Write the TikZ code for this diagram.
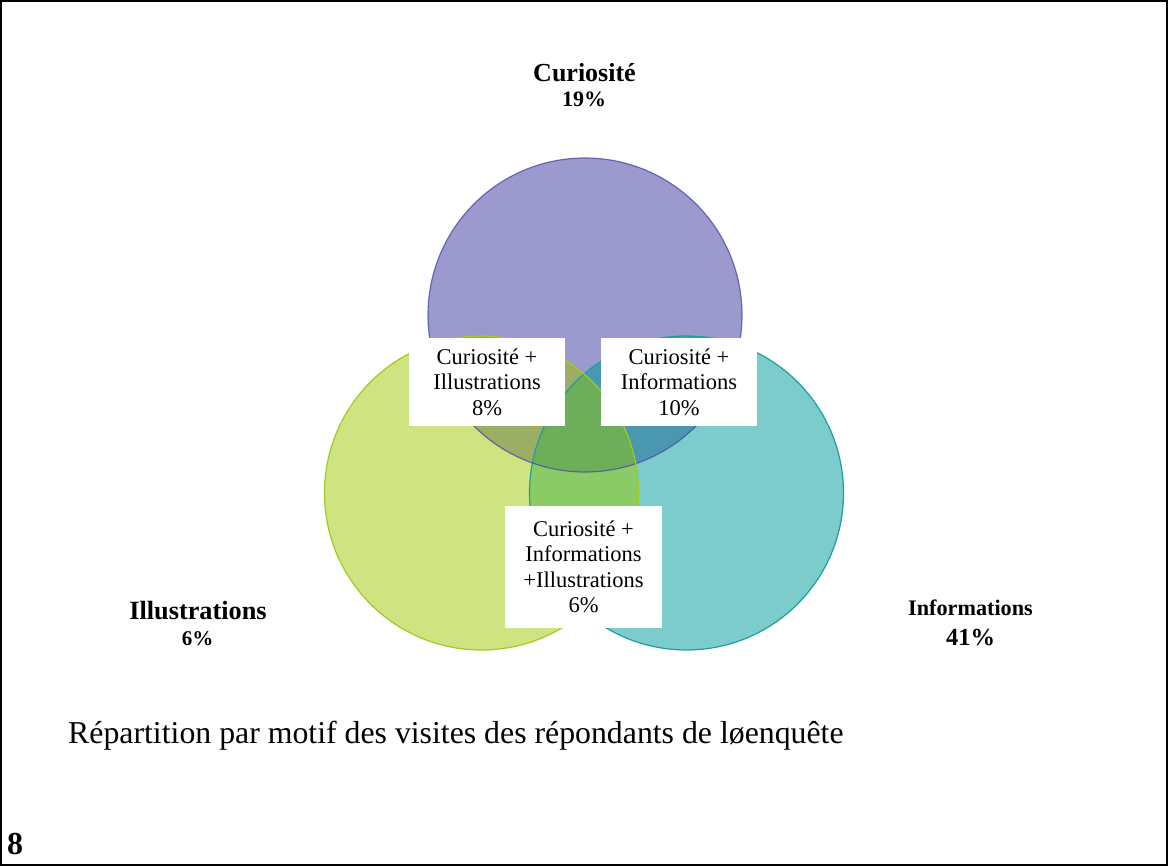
\documentclass[tikz,border=0pt]{standalone}
\usepackage{fontspec}
\setmainfont{Liberation Serif}
\definecolor{purF}{HTML}{9C99CE}
\definecolor{purD}{HTML}{4F4FA6}
\definecolor{yelF}{HTML}{CFE481}
\definecolor{yelD}{HTML}{9FCB22}
\definecolor{teaF}{HTML}{7BCCCB}
\definecolor{teaD}{HTML}{1C9F9F}
\definecolor{pyF}{HTML}{9BAE63}
\definecolor{ptF}{HTML}{4A97B0}
\definecolor{ytF}{HTML}{8BCB66}
\definecolor{pytF}{HTML}{6CAE5A}
\tikzset{
  lbl/.style={inner sep=0pt, align=center, font=\bfseries},
  boxlbl/.style={fill=white, inner sep=0pt, minimum width=156pt, align=center,
    font=\fontsize{22.5}{25.5}\selectfont},
}
\begin{document}
\begin{tikzpicture}[x=1pt,y=-1pt]
\useasboundingbox (0,0) rectangle (1168,866);
\draw[line width=2pt] (1,1) rectangle (1167,865);
\coordinate (P) at (585,315);
\coordinate (Y) at (481.5,493);
\coordinate (T) at (686.5,493);
\def\R{157}
% base fills
\fill[purF] (P) circle[radius=\R];
\fill[yelF] (Y) circle[radius=\R];
\fill[teaF] (T) circle[radius=\R];
% overlaps
\begin{scope}\clip (P) circle[radius=\R]; \fill[pyF] (Y) circle[radius=\R];\end{scope}
\begin{scope}\clip (P) circle[radius=\R]; \fill[ptF] (T) circle[radius=\R];\end{scope}
\begin{scope}\clip (Y) circle[radius=\R]; \fill[ytF] (T) circle[radius=\R];\end{scope}
\begin{scope}\clip (P) circle[radius=\R]; \clip (Y) circle[radius=\R]; \fill[pytF] (T) circle[radius=\R];\end{scope}
% outlines
\draw[teaD, line width=1.2pt] (T) circle[radius=\R];
\draw[purD, line width=1.2pt, opacity=0.8] (P) circle[radius=\R];
\draw[yelD, line width=1.2pt] (Y) circle[radius=\R];
% outer labels
\node[lbl, font=\bfseries\fontsize{26}{30}\selectfont, anchor=base] (cur) at (584.5,82) {Curiosité};
\node[lbl, font=\bfseries\fontsize{22}{26}\selectfont, anchor=base] (curp) at (584,107) {19\%};
\node[lbl, font=\bfseries\fontsize{26.3}{30}\selectfont, anchor=base] (ill) at (198,619) {Illustrations};
\node[lbl, font=\bfseries\fontsize{21}{25}\selectfont, anchor=base] (illp) at (197.5,645) {6\%};
\node[lbl, font=\bfseries\fontsize{22.2}{26}\selectfont, anchor=base] (inf) at (970.5,615) {Informations};
\node[lbl, font=\bfseries\fontsize{24.5}{28}\selectfont, anchor=base] (infp) at (970.5,645) {41\%};
% boxes
\node[boxlbl, minimum height=88pt] (ci) at (487,382) {Curiosité +\\Illustrations\\8\%};
\node[boxlbl, minimum height=88pt] (cn) at (679,382) {Curiosité +\\Informations\\10\%};
\node[boxlbl, minimum width=157pt, minimum height=122pt] (cni) at (583.5,567) {Curiosité +\\Informations\\+Illustrations\\6\%};
% title
\node[inner sep=0pt, anchor=base west, font=\fontsize{31.8}{36}\selectfont] (title) at (68,743) {Répartition par motif des visites des répondants de løenquête};
\node[inner sep=0pt, anchor=base west, font=\bfseries\fontsize{32}{36}\selectfont] (num) at (7,854) {8};
\end{tikzpicture}
\end{document}
